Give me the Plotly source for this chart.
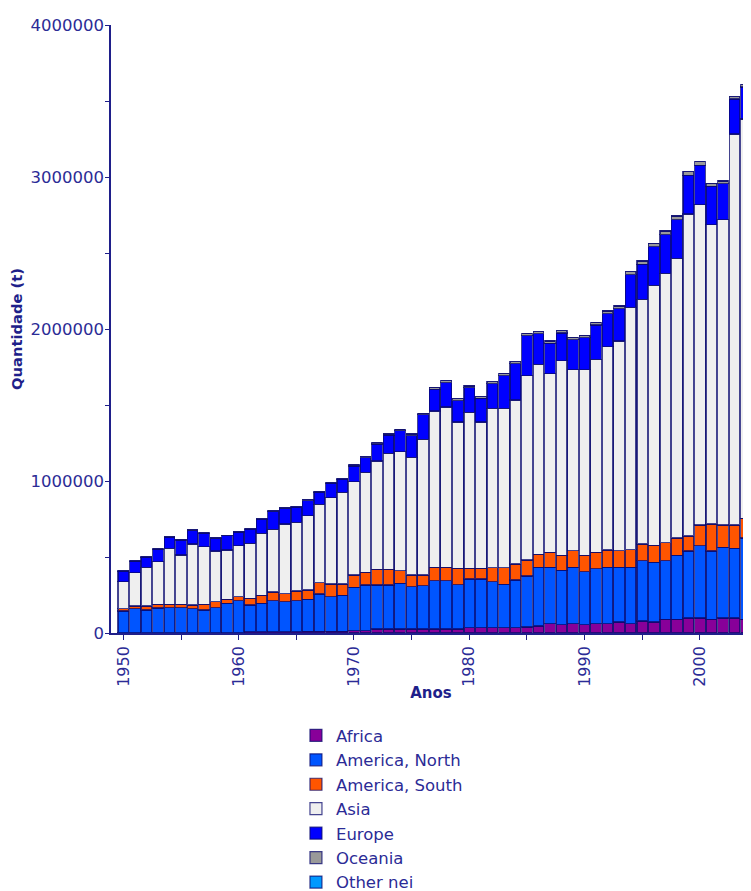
import plotly.graph_objects as go

years = list(range(1950, 2005))

africa = [2, 2, 2, 2, 2, 2, 2, 2, 2, 2, 3,
          8, 8, 8, 8, 8, 10, 10, 10, 12,
          15, 15, 26, 26, 26, 26, 26, 26, 26, 26,
          35, 35, 35, 35, 35, 40, 46, 62, 54, 62,
          54, 62, 62, 72, 62, 79, 72, 91, 91, 99,
          99, 91, 99, 99, 91]
america_north = [143, 158, 149, 162, 165, 165, 158, 149, 165, 193, 210,
                 176, 187, 205, 198, 205, 212, 247, 229, 236,
                 285, 301, 290, 290, 301, 279, 285, 318, 318, 292,
                 320, 320, 303, 285, 314, 335, 385, 371, 359, 371,
                 349, 361, 371, 361, 371, 398, 393, 386, 421, 440,
                 475, 448, 465, 457, 534]
america_south = [15, 18, 27, 25, 22, 22, 24, 38, 39, 27, 26,
                 44, 53, 57, 53, 63, 61, 74, 83, 74,
                 82, 83, 103, 103, 83, 77, 71, 88, 88, 107,
                 70, 70, 92, 110, 105, 105, 87, 98, 99, 108,
                 109, 108, 113, 108, 116, 109, 111, 116, 113, 99,
                 136, 178, 146, 154, 129]
asia = [178, 219, 254, 280, 368, 324, 402, 379, 333, 324, 335,
        362, 408, 412, 458, 452, 489, 516, 568, 603,
        614, 658, 713, 763, 783, 774, 892, 1029, 1055, 963,
        1027, 963, 1048, 1048, 1079, 1213, 1250, 1175, 1280, 1190,
        1219, 1271, 1338, 1380, 1594, 1609, 1711, 1773, 1840, 2119,
        2108, 1970, 2009, 2573, 2628]
europe = [69, 74, 67, 81, 73, 99, 88, 88, 82, 93, 91,
          92, 92, 117, 101, 99, 99, 79, 95, 85,
          103, 97, 112, 119, 137, 143, 161, 143, 161, 141,
          161, 155, 163, 216, 238, 264, 200, 200, 182, 199,
          211, 225, 217, 212, 215, 232, 255, 254, 254, 254,
          260, 252, 237, 230, 210]
oceania = [3, 3, 3, 3, 4, 4, 4, 4, 4, 4, 4,
           4, 4, 4, 4, 4, 5, 5, 5, 5,
           6, 6, 8, 8, 10, 10, 10, 12, 12, 12,
           12, 12, 12, 14, 14, 14, 15, 15, 16, 16,
           16, 18, 18, 18, 20, 20, 22, 25, 25, 25,
           22, 20, 18, 15, 15]
other_nei = [0] * len(years)

series = [
    ("Africa", africa, "#880099"),
    ("America, North", america_north, "#0055FF"),
    ("America, South", america_south, "#FF5500"),
    ("Asia", asia, "#EFEFEF"),
    ("Europe", europe, "#0000FF"),
    ("Oceania", oceania, "#999999"),
    ("Other nei", other_nei, "#0099FF"),
]

navy = "#1f1f8a"
text_col = "#2b2b96"

fig = go.Figure()
for name, vals, col in series:
    fig.add_trace(go.Bar(
        x=years, y=[v * 1000 for v in vals], name=name,
        marker=dict(color=col, line=dict(color="rgba(10,10,110,0.75)", width=1.2)),
    ))

# page body has an 8px margin, so the figure is sized/offset to compensate
fig.update_layout(
    width=743, height=883,
    barmode="stack", bargap=0.07,
    plot_bgcolor="white", paper_bgcolor="white",
    margin=dict(l=103, r=0, t=17, b=258, autoexpand=False),
    font=dict(family="DejaVu Sans", color=text_col, size=15),
    showlegend=True,
    legend=dict(
        x=0.289, y=-0.140, xanchor="left", yanchor="top",
        orientation="v", traceorder="normal",
        font=dict(size=16.5, color=text_col, family="DejaVu Sans"),
        bgcolor="rgba(0,0,0,0)",
    ),
    xaxis=dict(
        range=[1948.93, 2004.43], automargin=False,
        tickmode="array", tickvals=[1950, 1960, 1970, 1980, 1990, 2000],
        ticktext=["1950", "1960", "1970", "1980", "1990", "2000"],
        tickangle=-90, ticks="outside", ticklen=5, tickcolor=navy,
        minor=dict(tickvals=[1955, 1965, 1975, 1985, 1995], ticks="outside", ticklen=5, tickcolor=navy),
        showline=True, linecolor=navy, linewidth=1.5,
        showgrid=False, zeroline=False,
        tickfont=dict(size=16, color=text_col),
        title=dict(text="<b>Anos</b>", font=dict(size=15, color=navy), standoff=2),
    ),
    yaxis=dict(
        range=[0, 4000000], automargin=False,
        tickmode="array", tickvals=[0, 1000000, 2000000, 3000000, 4000000],
        ticktext=["0", "1000000", "2000000", "3000000", "4000000"],
        ticks="outside", ticklen=4, tickcolor=navy, ticklabelstandoff=-2,
        minor=dict(tickvals=[500000, 1500000, 2500000, 3500000], ticks="outside", ticklen=4, tickcolor=navy),
        showline=True, linecolor=navy, linewidth=1.5,
        showgrid=False, zeroline=False,
        tickfont=dict(size=16.5, color=text_col),
        title=dict(text="<b>Quantidade (t)</b>", font=dict(size=14.7, color=navy), standoff=6),
    ),
)

fig.write_html("out.html")
